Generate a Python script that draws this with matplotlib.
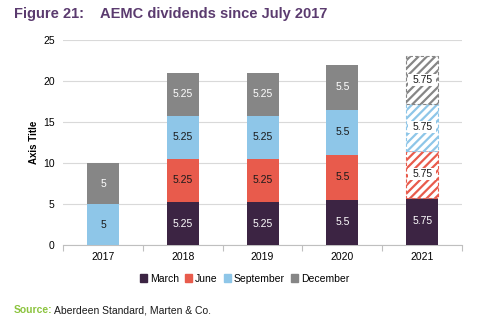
import matplotlib
matplotlib.use("Agg")
import matplotlib.pyplot as plt
import numpy as np

plt.rcParams['font.family'] = ['Liberation Sans', 'DejaVu Sans']
plt.rcParams['hatch.linewidth'] = 1.6

years = ["2017", "2018", "2019", "2020", "2021"]
series = ["March", "June", "September", "December"]
march = [0, 5.25, 5.25, 5.5, 5.75]
june = [0, 5.25, 5.25, 5.5, 5.75]
september = [5, 5.25, 5.25, 5.5, 5.75]
december = [5, 5.25, 5.25, 5.5, 5.75]
# Quarters that are forecasts (drawn hatched) in the final year
forecast = {"June": [4], "September": [4], "December": [4]}

colors = {"March": "#3C2443", "June": "#E85B4C",
          "September": "#8EC6E8", "December": "#868686"}
label_colors = {"March": "white", "June": "#1a1a1a",
                "September": "#1a1a1a", "December": "white"}

fig = plt.figure(figsize=(4.89, 3.22), dpi=100)
ax = fig.add_axes([0.129, 0.239, 0.816, 0.637])

x = np.arange(len(years))
width = 0.4
bottom = np.zeros(len(years))
values = {"March": march, "June": june, "September": september, "December": december}

for name in series:
    vals = np.array(values[name], dtype=float)
    for i, v in enumerate(vals):
        if v == 0:
            continue
        mid = bottom[i] + v / 2
        if i in forecast.get(name, []):
            ax.bar(x[i], v, width, bottom=bottom[i], facecolor="white",
                   edgecolor=colors[name], hatch="////", linewidth=0.8,
                   linestyle=(0, (3, 2)), zorder=3)
            # white panel behind the forecast value
            ax.bar(x[i], 1.5, width * 0.86, bottom=mid - 0.75, color="white",
                   linewidth=0, zorder=3.5)
            ax.text(x[i], mid, f"{v:g}", ha="center", va="center",
                    fontsize=7.5, color="#1a1a1a", zorder=4)
        else:
            ax.bar(x[i], v, width, bottom=bottom[i], color=colors[name],
                   linewidth=0, zorder=3)
            ax.text(x[i], mid, f"{v:g}", ha="center", va="center",
                    fontsize=7.5, color=label_colors[name], zorder=4)
    bottom += vals

ax.set_xlim(-0.5, len(years) - 0.5)
ax.set_ylim(0, 25)
ax.set_yticks(np.arange(0, 26, 5))
ax.yaxis.grid(True, color="#D9D9D9", linewidth=0.8, zorder=0)
ax.set_axisbelow(True)
for s in ["top", "right", "left"]:
    ax.spines[s].set_visible(False)
ax.spines["bottom"].set_color("#BFBFBF")
ax.spines["bottom"].set_linewidth(0.8)
ax.set_xticks(x)
ax.set_xticklabels(years, fontsize=7.5)
ax.set_xticks(np.arange(-0.5, len(years), 1), minor=True)
ax.tick_params(axis="x", which="major", length=0, pad=5)
ax.tick_params(axis="x", which="minor", length=4, color="#BFBFBF", width=0.8)
ax.tick_params(axis="y", length=0, labelsize=7.5, pad=6)
ax.set_ylabel("Axis Title", fontsize=7, fontweight="bold", labelpad=3)

handles = [plt.Rectangle((0, 0), 1, 1, color=colors[n]) for n in series]
fig.legend(handles, series, loc="center", bbox_to_anchor=(0.5, 0.135), ncol=4,
           frameon=False, fontsize=7.5, handlelength=0.7, handleheight=0.7,
           handletextpad=0.25, columnspacing=0.6)

fig.text(0.029, 0.958, "Figure 21:    AEMC dividends since July 2017", fontsize=10.5,
         fontweight="bold", color="#5B3B6F", va="center")
fig.text(0.029, 0.027, "Source:", fontsize=7.5, fontweight="bold",
         color="#8CC43F", va="baseline")
fig.text(0.110, 0.027, "Aberdeen Standard, Marten & Co.", fontsize=7.5,
         color="#1a1a1a", va="baseline")

fig.savefig("out.png", dpi=100)
